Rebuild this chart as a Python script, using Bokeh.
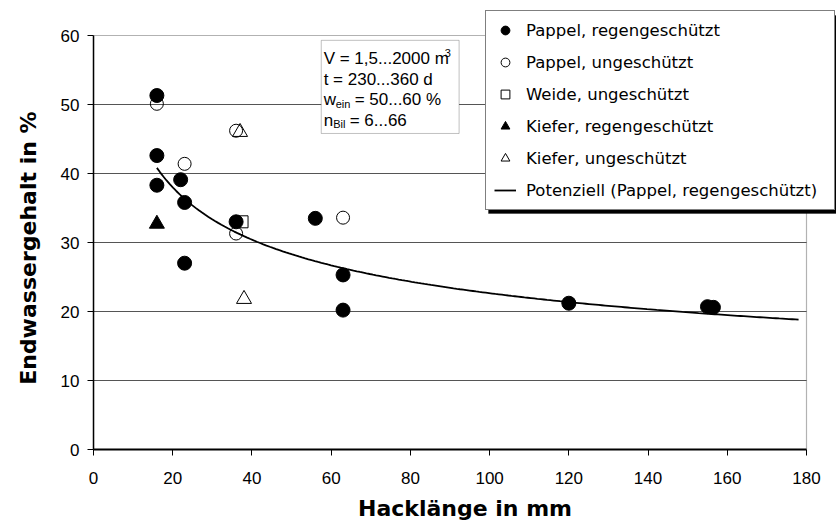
import numpy as np
from bokeh.plotting import figure
from bokeh.models import Range1d, Legend, LegendItem, Label, BoxAnnotation, FixedTicker
from bokeh.embed import file_html
from bokeh.resources import INLINE

# ---- data ----
pappel_reg_x = [16, 16, 16, 22, 23, 23, 36, 56, 63, 63, 120, 155, 156.5]
pappel_reg_y = [51.3, 42.6, 38.3, 39.1, 35.8, 27.0, 33.0, 33.5, 25.3, 20.2, 21.2, 20.7, 20.6]
pappel_unge_x = [16, 23, 36, 36, 63]
pappel_unge_y = [50.1, 41.4, 46.2, 31.3, 33.6]
weide_unge_x = [37.5]
weide_unge_y = [33.0]
kiefer_reg_x = [16]
kiefer_reg_y = [32.7]
kiefer_unge_x = [37, 38]
kiefer_unge_y = [46.0, 21.8]
trend_x_range = [16, 178]
x_ticks = [0, 20, 40, 60, 80, 100, 120, 140, 160, 180]
y_ticks = [0, 10, 20, 30, 40, 50, 60]

legend_labels = ["Pappel, regengeschützt", "Pappel, ungeschützt", "Weide, ungeschützt",
                 "Kiefer, regengeschützt", "Kiefer, ungeschützt",
                 "Potenziell (Pappel, regengeschützt)"]

# power trend line (least squares in log-log space, like the spreadsheet's trendline)
b, loga = np.polyfit(np.log(pappel_reg_x), np.log(pappel_reg_y), 1)
trend_x = np.linspace(trend_x_range[0], trend_x_range[1], 200)
trend_y = np.exp(loga) * trend_x ** b

# plot area of the chart is 0..180 x 0..60; the frame is extended up/right so that
# the legend (which sticks out of the plot area) is not clipped
FL, FR, FT, FB = 93, 836, 8, 449
PX_W, PX_H = 713, 414  # pixels for 0..180 and 0..60
x_max = x_ticks[-1] * (FR - FL) / PX_W
y_max = y_ticks[-1] * (FB - FT) / PX_H

p = figure(width=836, height=525, output_backend="svg", toolbar_location=None,
           x_range=Range1d(0, x_max), y_range=Range1d(0, y_max),
           min_border_left=FL, min_border_right=836 - FR, min_border_top=FT,
           min_border_bottom=525 - FB)
p.background_fill_color = "white"
p.border_fill_color = "white"
p.outline_line_color = None

p.xgrid.grid_line_color = None
p.ygrid.grid_line_color = None

p.xaxis.ticker = FixedTicker(ticks=x_ticks)
p.yaxis.ticker = FixedTicker(ticks=y_ticks)
p.xaxis.bounds = (x_ticks[0], x_ticks[-1])
p.yaxis.bounds = (y_ticks[0], y_ticks[-1])
for ax in (p.xaxis, p.yaxis):
    ax.major_tick_out = 6
    ax.major_tick_in = 0
    ax.minor_tick_out = 0
    ax.minor_tick_in = 0
    ax.major_tick_line_color = "black"
    ax.axis_line_color = "black"
    ax.major_label_text_font = "Liberation Sans"
    ax.major_label_text_font_size = "17px"
    ax.major_label_text_color = "black"
    ax.axis_label_text_font = "DejaVu Sans"
    ax.axis_label_text_font_size = "22px"
    ax.axis_label_text_font_style = "bold"
    ax.axis_label_text_color = "black"
p.xaxis.axis_line_width = 2
p.yaxis.axis_line_width = 1.5
p.xaxis.major_label_standoff = 16
p.yaxis.major_label_standoff = 8
p.xaxis.axis_label = "Hacklänge in mm"
p.yaxis.axis_label = "Endwassergehalt in %" + "\u00a0" * 5
p.xaxis.axis_label_standoff = 9
p.yaxis.axis_label_standoff = 17

# horizontal grid lines across the plot area only
grid_y = y_ticks[1:-1]
p.segment(x0=[x_ticks[0]] * len(grid_y), x1=[x_ticks[-1]] * len(grid_y),
          y0=grid_y, y1=grid_y, line_color="#555555", line_width=1)

r_pr = p.scatter(pappel_reg_x, pappel_reg_y, marker="circle", size=14,
                 fill_color="black", line_color="black")
r_pu = p.scatter(pappel_unge_x, pappel_unge_y, marker="circle", size=13,
                 fill_color="white", fill_alpha=0, line_color="black", line_width=1)
r_wu = p.scatter(weide_unge_x, weide_unge_y, marker="square", size=12,
                 fill_color="white", fill_alpha=0, line_color="black", line_width=1)
r_kr = p.scatter(kiefer_reg_x, kiefer_reg_y, marker="triangle", size=15,
                 fill_color="black", line_color="black")
r_ku = p.scatter(kiefer_unge_x, kiefer_unge_y, marker="triangle", size=15,
                 fill_color="white", fill_alpha=0, line_color="black", line_width=1)
r_tr = p.line(trend_x, trend_y, line_color="black", line_width=1.8)

renderers = [r_pr, r_pu, r_wu, r_kr, r_ku, r_tr]

# plot-area outline (top and right edges)
p.add_layout(BoxAnnotation(left=x_ticks[0], right=x_ticks[-1], bottom=y_ticks[0],
                           top=y_ticks[-1], fill_alpha=0, line_color="black",
                           line_width=1.2))

# legend with a drop shadow
LG_X, LG_Y = 392, 239
LG_W = 8 + 22 + 10 + 300 + 8
LG_H = 8 + 6 * 22 + 5 * 10 + 8
p.add_layout(BoxAnnotation(left=LG_X + 3, right=LG_X + 3 + LG_W,
                           bottom=LG_Y - 3, top=LG_Y - 3 + LG_H,
                           left_units="screen", right_units="screen",
                           bottom_units="screen", top_units="screen",
                           fill_color="black", fill_alpha=1, line_color="black"))
items = [LegendItem(label=l, renderers=[r]) for l, r in zip(legend_labels, renderers)]
legend = Legend(items=items, location=(LG_X, LG_Y), orientation="vertical",
                label_text_font="DejaVu Sans", label_text_font_size="16.5px",
                label_text_color="black", glyph_width=22, glyph_height=22,
                label_height=22, label_width=300, label_standoff=10, spacing=10,
                padding=8, margin=0, border_line_color="black", border_line_width=1,
                background_fill_color="white", background_fill_alpha=1)
p.add_layout(legend, "center")

# info box
p.add_layout(BoxAnnotation(left=57.5, right=92.3, bottom=45.8, top=59.3,
                           fill_color="white", fill_alpha=1,
                           line_color="#333333", line_width=1))
box_font = "Liberation Sans"
line_y = [56.6, 53.63, 50.66, 47.69]
lx = 58.1


def lab(text, y, xo=0, yo=0, size="17px"):
    p.add_layout(Label(x=lx, y=y, x_offset=xo, y_offset=yo, text=text,
                       text_font=box_font, text_font_size=size, text_color="black",
                       text_baseline="middle", text_align="left"))


lab("V = 1,5...2000 m", line_y[0])
lab("3", line_y[0], xo=121, yo=6, size="11px")
lab("t = 230...360 d", line_y[1])
lab("w", line_y[2])
lab("ein", line_y[2], xo=12, yo=-4, size="11px")
lab("= 50...60 %", line_y[2], xo=31)
lab("n", line_y[3])
lab("Bil", line_y[3], xo=9.5, yo=-4, size="11px")
lab("= 6...66", line_y[3], xo=26)

open("out.html", "w").write(file_html(p, INLINE))
